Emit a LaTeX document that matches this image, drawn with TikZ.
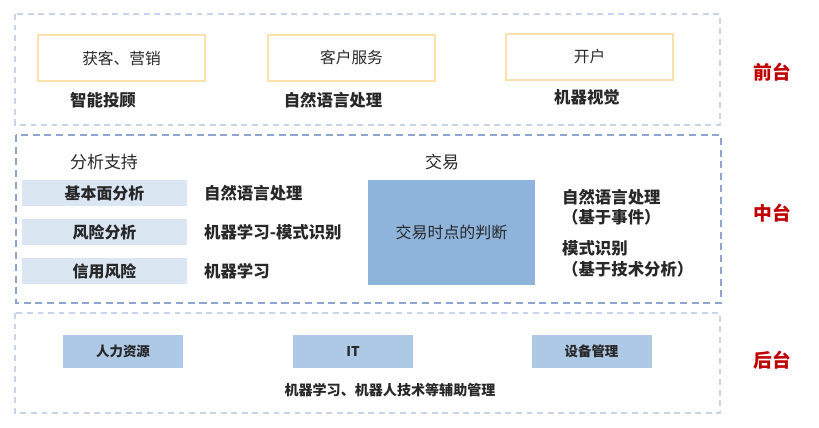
\documentclass[tikz,border=0pt]{standalone}
\usepackage{fontspec}
\setmainfont{Noto Sans CJK SC}
\usepackage{tikz}
\usetikzlibrary{positioning}
\definecolor{layerline}{RGB}{200, 212, 234}
\definecolor{midline}{RGB}{142, 164, 210}
\definecolor{frontedge}{RGB}{252, 226, 170}
\definecolor{paleblue}{RGB}{218, 230, 242}
\definecolor{midblue}{RGB}{143, 180, 220}
\definecolor{backblue}{RGB}{173, 201, 230}
\definecolor{layerred}{RGB}{192, 0, 0}
\definecolor{inktext}{RGB}{40, 40, 40}

\begin{document}
\begin{tikzpicture}[x=0.03cm, y=-0.03cm,
    layer/.style={draw=layerline, line width=1pt, dash pattern=on 5pt off 4pt},
    midlayer/.style={draw=midline, line width=1.6pt, dash pattern=on 6pt off 4pt},
    frontbox/.style={draw=frontedge, line width=1.2pt, minimum width=5cm, minimum height=1.38cm, font=\fontsize{13.4}{16}\selectfont, text=inktext},
    barbox/.style={fill=paleblue, minimum width=4.95cm, minimum height=0.8cm, font=\fontsize{13.6}{16}\selectfont\bfseries, text=inktext},
    backbox/.style={fill=backblue, minimum width=3.6cm, minimum height=1cm, font=\fontsize{11.5}{13}\selectfont\bfseries, text=inktext},
    tech/.style={font=\fontsize{14}{17.5}\selectfont\bfseries, text=inktext},
    head/.style={font=\fontsize{14.5}{17}\selectfont, text=inktext},
    tag/.style={font=\fontsize{16}{18}\selectfont\bfseries, text=layerred}]
\useasboundingbox (0,0) rectangle (819,428);

% three layers
\draw[layer]    (15,14)  rectangle (720,125);
\draw[midlayer] (16,135) rectangle (721,303);
\draw[layer]    (15,313) rectangle (720,413);

% front layer
\node[frontbox] (acq)  at (121.5,58) {获客、营销};
\node[frontbox] (serv) at (351.5,58) {客户服务};
\node[frontbox] (open) at (589.5,57) {开户};
\node[tech] (advisor) at (103,100) {智能投顾};
\node[tech] (nlpf)    at (333,100) {自然语言处理};
\node[tech] (vision)  at (587,97)  {机器视觉};
\node[tag] (front) at (772,72) {前台};

% middle layer: analysis support
\node[head] (support) at (104,162) {分析支持};
\foreach \name/\y/\txt/\tool in {fund/193/基本面分析/自然语言处理,
                                 risk/232/风险分析/机器学习-模式识别,
                                 credit/271/信用风险/机器学习} {
  \node[barbox] (\name) at (104.5,\y) {\txt};
  \node[tech, anchor=west] (\name tool) at (200,\y) {\tool};
}

% middle layer: trading
\node[head] (trade) at (442,162) {交易};
\node[fill=midblue, minimum width=5.01cm, minimum height=3.15cm,
      font=\fontsize{13.6}{16}\selectfont, text=inktext] (timing) at (451.5,232.5) {交易时点的判断};
\node[tech, anchor=west, align=left] (event) at (558,207)
  {自然语言处理\\（基于事件）};
\node[tech, anchor=west, align=left] (pattern) at (558,259)
  {模式识别\\（基于技术分析）};
\node[tag] (middle) at (772,213) {中台};

% back layer
\node[backbox] (hr)    at (123,351.5) {人力资源};
\node[backbox] (it)    at (353,351.5) {IT};
\node[backbox] (equip) at (591.5,351.5) {设备管理};
\node[tech, font=\fontsize{12}{14}\selectfont\bfseries] (aux) at (390,390) {机器学习、机器人技术等辅助管理};
\node[tag] (back) at (772,360) {后台};

\end{tikzpicture}
\end{document}
